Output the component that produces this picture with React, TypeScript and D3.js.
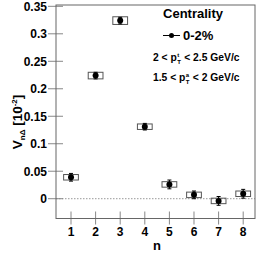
import React from "react";
import * as d3 from "d3";

const harmonics = [1, 2, 3, 4, 5, 6, 7, 8];
const values = [0.039, 0.224, 0.324, 0.131, 0.026, 0.007, -0.004, 0.009];
const statErr = [0.007, 0.006, 0.006, 0.006, 0.008, 0.007, 0.008, 0.008];
const sysErr = [0.005, 0.006, 0.007, 0.005, 0.005, 0.005, 0.005, 0.005];
const yTicks = [0, 0.05, 0.1, 0.15, 0.2, 0.25, 0.3, 0.35];
const yTickLabels = ["0", "0.05", "0.1", "0.15", "0.2", "0.25", "0.3", "0.35"];
const xTicks = [1, 2, 3, 4, 5, 6, 7, 8];

const W = 258;
const H = 259;
const left = 56;
const right = 255;
const top = 5;
const bottom = 218.5;

const FS = 10.3;
const SFS = 6;

function PtLine({ x0, yb, pre, sup, post }: { x0: number; yb: number; pre: string; sup: string; post: string }) {
  const widths: Record<string, number> = { "0": 0.556, "1": 0.556, "2": 0.556, "5": 0.556, ".": 0.278, " ": 0.278, "<": 0.584, p: 0.611 };
  let w = 0;
  for (const c of pre) w += widths[c] ?? 0.556;
  const px = x0 + w * FS + 0.5;
  return (
    <g fontWeight="bold">
      <text x={x0} y={yb} fontSize={FS}>{pre}</text>
      <text x={px} y={yb - 4.2} fontSize={SFS}>{sup}</text>
      <text x={px} y={yb + 3.2} fontSize={SFS}>T</text>
      <text x={px + 7} y={yb} fontSize={FS}>{post}</text>
    </g>
  );
}

export default function App() {
  const x = d3.scaleLinear().domain([0.39, 8.48]).range([left, right]);
  const y = d3.scaleLinear().domain([-0.036, 0.3524]).range([bottom, top]);
  const font = "'Liberation Sans', Arial, Helvetica, sans-serif";
  const axisColor = "#666";
  const tickColor = "#888";
  const boxHalf = 0.3;

  return (
    <svg width={W} height={H} style={{ position: "absolute", left: 0, top: 0 }} fontFamily={font}>
      <rect x={0} y={0} width={W} height={H} fill="#fff" />
      {/* zero line */}
      <line x1={left} x2={right} y1={y(0)} y2={y(0)} stroke="#999" strokeWidth={1} strokeDasharray="1.5,1.5" />
      {/* y ticks */}
      {yTicks.map((t, i) => (
        <g key={"y" + i}>
          <line x1={left - 8} x2={left + 7} y1={y(t)} y2={y(t)} stroke={tickColor} strokeWidth={1} />
          <text x={left - 9} y={y(t)} dy="0.36em" textAnchor="end" fontSize={12} fontWeight="bold" fill="#000">
            {yTickLabels[i]}
          </text>
        </g>
      ))}
      {/* x ticks */}
      {xTicks.map((t) => (
        <g key={"x" + t}>
          <line x1={x(t)} x2={x(t)} y1={bottom - 7} y2={bottom + 6} stroke={tickColor} strokeWidth={1} />
          <text x={x(t)} y={bottom + 17} textAnchor="middle" fontSize={12} fontWeight="bold" fill="#000">
            {t}
          </text>
        </g>
      ))}
      {/* frame */}
      <rect x={left} y={top} width={right - left} height={bottom - top} fill="none" stroke={axisColor} strokeWidth={1} />
      {/* data */}
      {harmonics.map((n, i) => {
        const cx = x(n);
        const cy = y(values[i]);
        const bx0 = x(n - boxHalf);
        const bx1 = x(n + boxHalf);
        const by0 = y(values[i] + sysErr[i]);
        const by1 = y(values[i] - sysErr[i]);
        const ey0 = y(values[i] + statErr[i]);
        const ey1 = y(values[i] - statErr[i]);
        return (
          <g key={"p" + n}>
            <rect x={bx0} y={by0} width={bx1 - bx0} height={by1 - by0} fill="none" stroke="#555" strokeWidth={1} />
            <line x1={cx} x2={cx} y1={ey0} y2={ey1} stroke="#000" strokeWidth={1} />
            <line x1={cx - 2} x2={cx + 2} y1={ey0} y2={ey0} stroke="#000" strokeWidth={1} />
            <line x1={cx - 2} x2={cx + 2} y1={ey1} y2={ey1} stroke="#000" strokeWidth={1} />
            <circle cx={cx} cy={cy} r={3} fill="#000" />
          </g>
        );
      })}
      {/* axis titles */}
      <text x={x(4.5)} y={250} textAnchor="middle" fontSize={13} fontWeight="bold">n</text>
      <text transform="translate(22,122) rotate(-90)" textAnchor="middle" fontSize={13.5} fontWeight="bold">
        V<tspan fontSize={8} dy={3}>nΔ</tspan>
        <tspan dy={-3}> [10</tspan>
        <tspan fontSize={8} dy={-5}>-2</tspan>
        <tspan dy={5}>]</tspan>
      </text>
      {/* legend */}
      <text x={193} y={18} textAnchor="middle" fontSize={13} fontWeight="bold">Centrality</text>
      <line x1={163} x2={180} y1={35.5} y2={35.5} stroke="#000" strokeWidth={1} />
      <circle cx={171.5} cy={35.5} r={2.5} fill="#000" />
      <text x={183} y={39.5} fontSize={13} fontWeight="bold">0-2%</text>
      <PtLine x0={153} yb={61} pre="2 < p" sup="t" post="< 2.5 GeV/c" />
      <PtLine x0={153} yb={81} pre="1.5 < p" sup="a" post="< 2 GeV/c" />
    </svg>
  );
}
